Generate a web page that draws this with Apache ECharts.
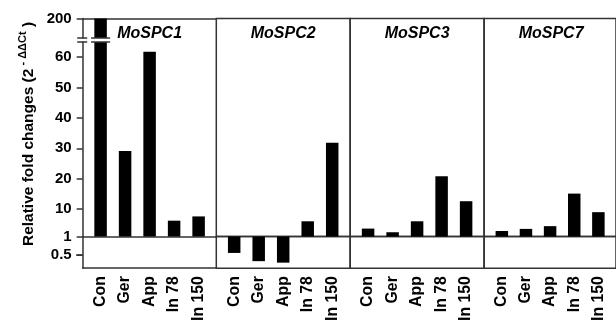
<!DOCTYPE html>
<html><head><meta charset="utf-8">
<script src="https://cdn.jsdelivr.net/npm/echarts@6/dist/echarts.min.js"></script>
<style>html,body{margin:0;padding:0;background:#fff}#c{width:616px;height:324px}</style>
</head><body><div id="c"></div>
<script>
// ---- data ----
const categories = ['Con', 'Ger', 'App', 'In 78', 'In 150'];
const panelTitles = ['MoSPC1', 'MoSPC2', 'MoSPC3', 'MoSPC7'];
const moSPC1 = [200, 29.1, 61.7, 6.2, 7.6];
const moSPC2 = [0.56, 0.34, 0.30, 6.0, 31.8];
const moSPC3 = [3.6, 2.4, 6.0, 20.8, 12.6];
const moSPC7 = [2.8, 3.5, 4.4, 15.1, 9.0];
const topTicks = [200];
const upperTicks = [1, 10, 20, 30, 40, 50, 60];
const lowerTicks = [0.5];
const panelValues = [moSPC1, moSPC2, moSPC3, moSPC7];

// ---- layout / style ----
const FONT = '"Liberation Sans", Arial, Helvetica, sans-serif';
const LINE = '#333', LW = 1.5;
const panelLeft = [82.7, 216.3, 350.2, 484.2];
const panelW = 133.8;
const gTop = 18.5, breakTop = 38, breakBot = 42, base = 236.5, bottomY = 273;
const pxPerUnit = 3.0424;
const lowerMin = 0.151;
const xMin = -0.73, xMax = 4.73;
const catIdx = categories.map((c, i) => i);

const grid = [], xAxis = [], yAxis = [], series = [];
function add(g, x, y, values, keep) {
  const i = grid.length;
  grid.push(g);
  xAxis.push(Object.assign({
    type: 'value', gridIndex: i, min: xMin, max: xMax,
    axisLine: { show: false, onZero: false }, axisTick: { show: false },
    axisLabel: { show: false }, splitLine: { show: false }
  }, x));
  yAxis.push(Object.assign({
    gridIndex: i, axisLine: { show: false, onZero: false },
    axisTick: { show: false }, axisLabel: { show: false }, splitLine: { show: false }
  }, y));
  series.push({
    type: 'bar', xAxisIndex: i, yAxisIndex: i, barWidth: 12.5, clip: true,
    itemStyle: { color: '#000' }, silent: true,
    data: values.map((v, k) => [k, v]).filter(d => keep(d[1]))
  });
  return i;
}
const mkLine = () => ({ color: LINE, width: LW });
const yLabel = (vals) => ({ show: true, customValues: vals, fontSize: 15, fontWeight: 'bold', color: '#000', fontFamily: FONT, margin: 11 });
const yTick = (vals) => ({ show: true, inside: false, customValues: vals, length: 6, lineStyle: mkLine() });
const border = () => ({ show: true, borderColor: LINE, borderWidth: LW, backgroundColor: 'transparent' });
const xLabel = () => ({ show: true, customValues: catIdx, formatter: v => categories[Math.round(v)], rotate: 90, fontSize: 15.8, fontWeight: 'bold', color: '#000', fontFamily: FONT, margin: 8 });

// Panel 1: top (broken) segment
add({ left: panelLeft[0], top: gTop, width: panelW, height: breakTop - gTop },
  { position: 'top', axisLine: { show: true, onZero: false, lineStyle: mkLine() } },
  { type: 'value', min: 180, max: 200, axisLine: { show: true, onZero: false, lineStyle: mkLine() }, axisTick: yTick(topTicks), axisLabel: yLabel(topTicks) },
  moSPC1, v => v >= 1);
// Panel 1: main upper segment
add({ left: panelLeft[0], top: breakBot, width: panelW, height: base - breakBot },
  { position: 'bottom', axisLine: { show: true, onZero: false, lineStyle: mkLine() } },
  { type: 'value', min: 1, max: 1 + (base - breakBot) / pxPerUnit, axisLine: { show: true, onZero: false, lineStyle: mkLine() }, axisTick: yTick(upperTicks), axisLabel: yLabel(upperTicks) },
  moSPC1, v => v >= 1);
// Panel 1: lower (<1) segment, bars hang down from 1
const lowerAxis1 = add({ left: panelLeft[0], top: base, width: panelW, height: bottomY - base },
  { position: 'bottom', axisLine: { show: true, onZero: false, lineStyle: mkLine() }, axisLabel: xLabel() },
  { type: 'value', min: lowerMin, max: 1, startValue: 1, position: 'left', axisLine: { show: true, onZero: false, lineStyle: mkLine() }, axisTick: yTick(lowerTicks), axisLabel: yLabel(lowerTicks) },
  moSPC1, v => v < 1);
// Panels 2-4: upper and lower segments
for (let p = 1; p < 4; p++) {
  add(Object.assign({ left: panelLeft[p], top: gTop, width: panelW, height: base - gTop }, border()),
    {}, { type: 'value', min: 1, max: 1 + (base - gTop) / pxPerUnit },
    panelValues[p], v => v >= 1);
  add(Object.assign({ left: panelLeft[p], top: base, width: panelW, height: bottomY - base }, border()),
    { position: 'bottom', axisLabel: xLabel() },
    { type: 'value', min: lowerMin, max: 1, startValue: 1 },
    panelValues[p], v => v < 1);
}

const title = panelTitles.map((t, i) => ({
  text: t, left: panelLeft[i] + panelW / 2, top: 26, textAlign: 'center', padding: 0,
  textStyle: { fontSize: 16, fontWeight: 'bold', fontStyle: 'italic', fontFamily: FONT, color: '#000' }
}));

const chart = echarts.init(document.getElementById('c'), null, { renderer: 'canvas' });
chart.setOption({ animation: false, backgroundColor: '#fff', title, grid, xAxis, yAxis, series });

// y-axis name, break marks, and the lower-segment tick
const cx = chart.convertToPixel({ xAxisIndex: 0 }, 0);
const mark = (x1, x2, y) => ({ type: 'line', silent: true, z: 100, shape: { x1, y1: y, x2, y2: y }, style: { stroke: LINE, lineWidth: LW } });
const ax = panelLeft[0];
const lowTickMarks = lowerTicks.map(v => {
  let ty = chart.convertToPixel({ gridIndex: lowerAxis1 }, [0, v]);
  ty = Array.isArray(ty) ? ty[1] : NaN;
  if (!isFinite(ty)) ty = base + (1 - v) / (1 - lowerMin) * (bottomY - base);
  return mark(ax - 6.5, ax, ty);
});
chart.setOption({
  graphic: [
    { type: 'text', x: 27, y: 134, rotation: Math.PI / 2, silent: true,
      style: { text: '{a|Relative fold changes (2}{s| - ΔΔCt}{a| )}', align: 'center', verticalAlign: 'middle',
        rich: { a: { fontSize: 15.5, fontWeight: 'bold', fontFamily: FONT, fill: '#000', lineHeight: 19, verticalAlign: 'bottom' },
                s: { fontSize: 11, fontWeight: 'bold', fontFamily: FONT, fill: '#000', lineHeight: 19, verticalAlign: 'top' } } } },
    mark(ax - 5.5, ax + 4.5, breakTop), mark(ax - 5.5, ax + 4.5, breakBot),
    mark(cx - 9.5, cx + 9.5, breakTop), mark(cx - 9.5, cx + 9.5, breakBot)
  ].concat(lowTickMarks)
});
</script></body></html>
